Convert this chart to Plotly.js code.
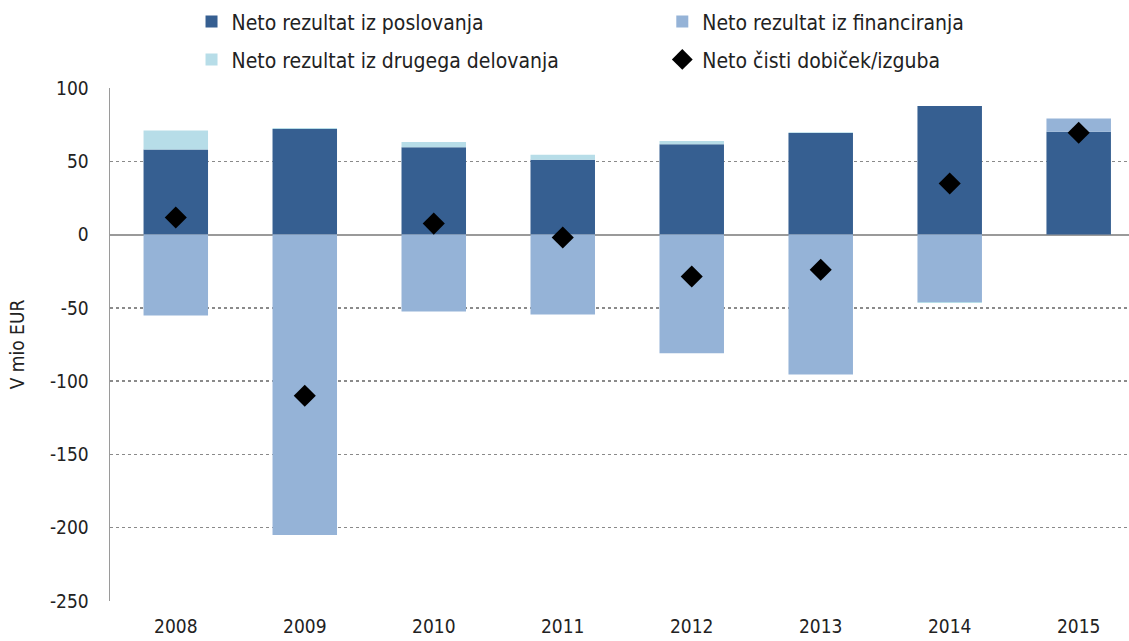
<!DOCTYPE html>
<html><head><meta charset="utf-8">
<script src="https://cdn.plot.ly/plotly-3.0.1.min.js"></script>
<style>html,body{margin:0;padding:0;background:#fff}#chart{width:1129px;height:641px}</style>
</head><body><div id="chart"></div>
<script>
const years = ['2008','2009','2010','2011','2012','2013','2014','2015'];
const poslovanje = [58, 72, 59.5, 51, 61.6, 69.3, 87.7, 70.2];
const financiranje = [-55.2, -205, -52.5, -54.5, -81, -95.4, -46, 9];
const drugega = [13, 0.7, 3.7, 3.5, 2.3, 0.5, -0.7, null];
const netoDobicek = [11.6, -110, 7.5, -2, -28.6, -24, 34.8, 69.5];
const names = ['Neto rezultat iz poslovanja','Neto rezultat iz financiranja','Neto rezultat iz drugega delovanja','Neto čisti dobiček/izguba'];
const yTickVals = [-250,-200,-150,-100,-50,0,50,100];
const yTickText = ['-250','-200','-150','-100','-50','0','50','100'];

const FONT = '"DejaVu Sans Condensed", "DejaVu Sans", sans-serif';
const traces = [
  {type:'bar', x: years, y: poslovanje, name: names[0], marker:{color:'#365F91'}, width:0.5, legend:'legend'},
  {type:'bar', x: years, y: financiranje, name: names[1], marker:{color:'#95B3D7'}, width:0.5, legend:'legend2'},
  {type:'bar', x: years, y: drugega, name: names[2], marker:{color:'#B7DDE8'}, width:0.5, legend:'legend3'},
  {type:'scatter', mode:'markers', x: years, y: netoDobicek, name: names[3], marker:{symbol:'diamond', color:'#000', size:17}, legend:'legend4'}
];
function leg(x, y){
  return {orientation:'h', x:x, xanchor:'left', y:y, yanchor:'middle', font:{size:21}, itemwidth:30, bgcolor:'rgba(0,0,0,0)'};
}
const layout = {
  width:1129, height:641,
  margin:{l:110, r:0, t:88, b:40, autoexpand:false},
  barmode:'relative',
  showlegend:true,
  font:{family:FONT, size:19, color:'#222'},
  plot_bgcolor:'#fff', paper_bgcolor:'#fff',
  xaxis:{type:'category', range:[-0.51, 7.39], showgrid:false, showline:false, ticks:'', ticklabelstandoff:12, tickfont:{size:19}},
  yaxis:{range:[-250,100], tickvals:yTickVals, ticktext:yTickText, showgrid:true, gridcolor:'#8a8a8a', griddash:'dot', gridwidth:1.5,
         zeroline:true, zerolinecolor:'#9a9a9a', zerolinewidth:2, showline:true, linecolor:'#9a9a9a', linewidth:1.5,
         ticks:'', ticklabelstandoff:16, tickfont:{size:19}, title:{text:'V mio EUR', font:{size:19}, standoff:20}},
  legend: leg(0.08, 1.129),
  legend2: leg(0.542, 1.129),
  legend3: leg(0.08, 1.055),
  legend4: leg(0.542, 1.055)
};
Plotly.newPlot('chart', traces, layout, {displayModeBar:false, staticPlot:true});
</script></body></html>
